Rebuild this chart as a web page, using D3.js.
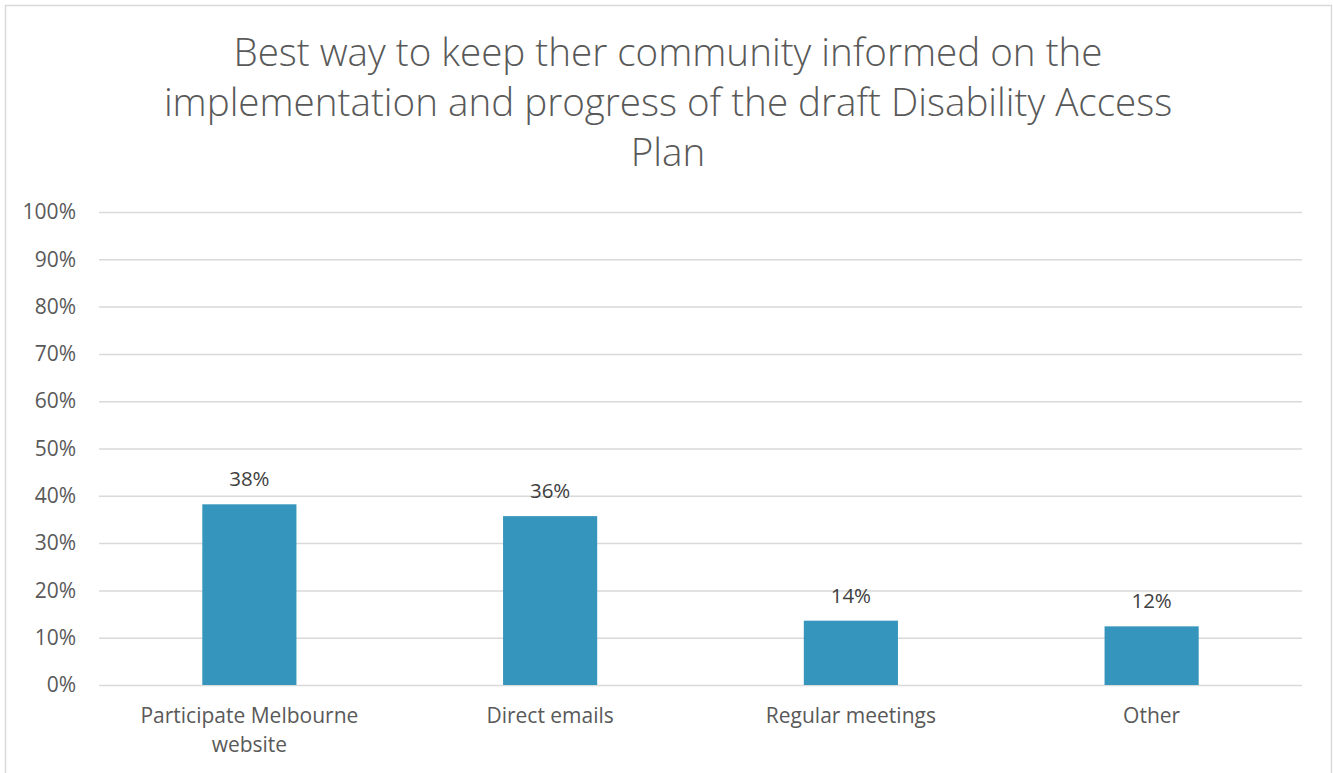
<!DOCTYPE html>
<html>
<head>
<meta charset="utf-8">
<script src="https://cdn.jsdelivr.net/npm/d3@7"></script>
<style>
  html, body { margin: 0; padding: 0; background: #fff; }
  svg { display: block; }
  text { font-family: "Open Sans", "Noto Sans", sans-serif; }
</style>
</head>
<body>
<svg id="chart" width="1333" height="773"></svg>
<script>
// Survey responses: share of respondents choosing each channel
const categories = [["Participate Melbourne", "website"], ["Direct emails"], ["Regular meetings"], ["Other"]];
const shares = [0.382, 0.357, 0.136, 0.124];
const yTickValues = [0, 0.1, 0.2, 0.3, 0.4, 0.5, 0.6, 0.7, 0.8, 0.9, 1.0];
const titleLines = [
  "Best way to keep ther community informed on the",
  "implementation and progress of the draft Disability Access",
  "Plan"
];

const W = 1333, H = 773;
const margin = { left: 99, right: 31, top: 212, bottom: 88 };
const plotW = W - margin.left - margin.right;
const plotH = H - margin.top - margin.bottom;

const textColor = "#595959";
const gridColor = "#d9d9d9";
const barColor = "#3595bc";

const svg = d3.select("#chart");

// Chart frame
svg.append("rect")
  .attr("x", 5.5).attr("y", 5.5)
  .attr("width", W - 7).attr("height", H + 10)
  .attr("fill", "#fff")
  .attr("stroke", gridColor).attr("stroke-width", 1.5);

// Title
const title = svg.append("text")
  .attr("text-anchor", "middle")
  .attr("fill", textColor)
  .attr("font-size", 38.6)
  .attr("font-weight", 300);
titleLines.forEach((line, i) => {
  title.append("tspan")
    .attr("x", 668)
    .attr("y", 66 + i * 50)
    .text(line);
});

const x = d3.scaleBand()
  .domain(d3.range(categories.length))
  .range([0, plotW])
  .paddingInner(0.687)
  .paddingOuter(0.3435);

const y = d3.scaleLinear().domain([0, 1]).range([plotH, 0]);

const g = svg.append("g").attr("transform", `translate(${margin.left},${margin.top})`);

// Horizontal gridlines and percentage tick labels
const yAxis = d3.axisLeft(y)
  .tickValues(yTickValues)
  .tickFormat(d3.format(".0%"))
  .tickSize(-plotW)
  .tickPadding(23);

const yG = g.append("g").call(yAxis);
yG.select(".domain").remove();
yG.selectAll(".tick line").attr("stroke", gridColor).attr("stroke-width", 1.5);
yG.selectAll(".tick text")
  .attr("fill", textColor)
  .attr("font-size", 21)
  .attr("font-family", "'Open Sans', sans-serif");

// Bars
g.selectAll("rect.bar")
  .data(shares)
  .join("rect")
  .attr("class", "bar")
  .attr("x", (d, i) => x(i))
  .attr("y", d => y(d))
  .attr("width", x.bandwidth())
  .attr("height", d => y(0) - y(d))
  .attr("fill", barColor);

// Value labels above bars
g.selectAll("text.value")
  .data(shares)
  .join("text")
  .attr("class", "value")
  .attr("x", (d, i) => x(i) + x.bandwidth() / 2)
  .attr("y", d => y(d) - 18)
  .attr("text-anchor", "middle")
  .attr("fill", "#404040")
  .attr("font-size", 20.5)
  .text(d => d3.format(".0%")(d));

// Category labels
const catG = g.append("g").attr("transform", `translate(0,${plotH})`);
categories.forEach((lines, i) => {
  const t = catG.append("text")
    .attr("text-anchor", "middle")
    .attr("fill", textColor)
    .attr("font-size", 21);
  lines.forEach((line, j) => {
    t.append("tspan")
      .attr("x", x(i) + x.bandwidth() / 2)
      .attr("y", 38 + j * 29)
      .text(line);
  });
});
</script>
</body>
</html>
